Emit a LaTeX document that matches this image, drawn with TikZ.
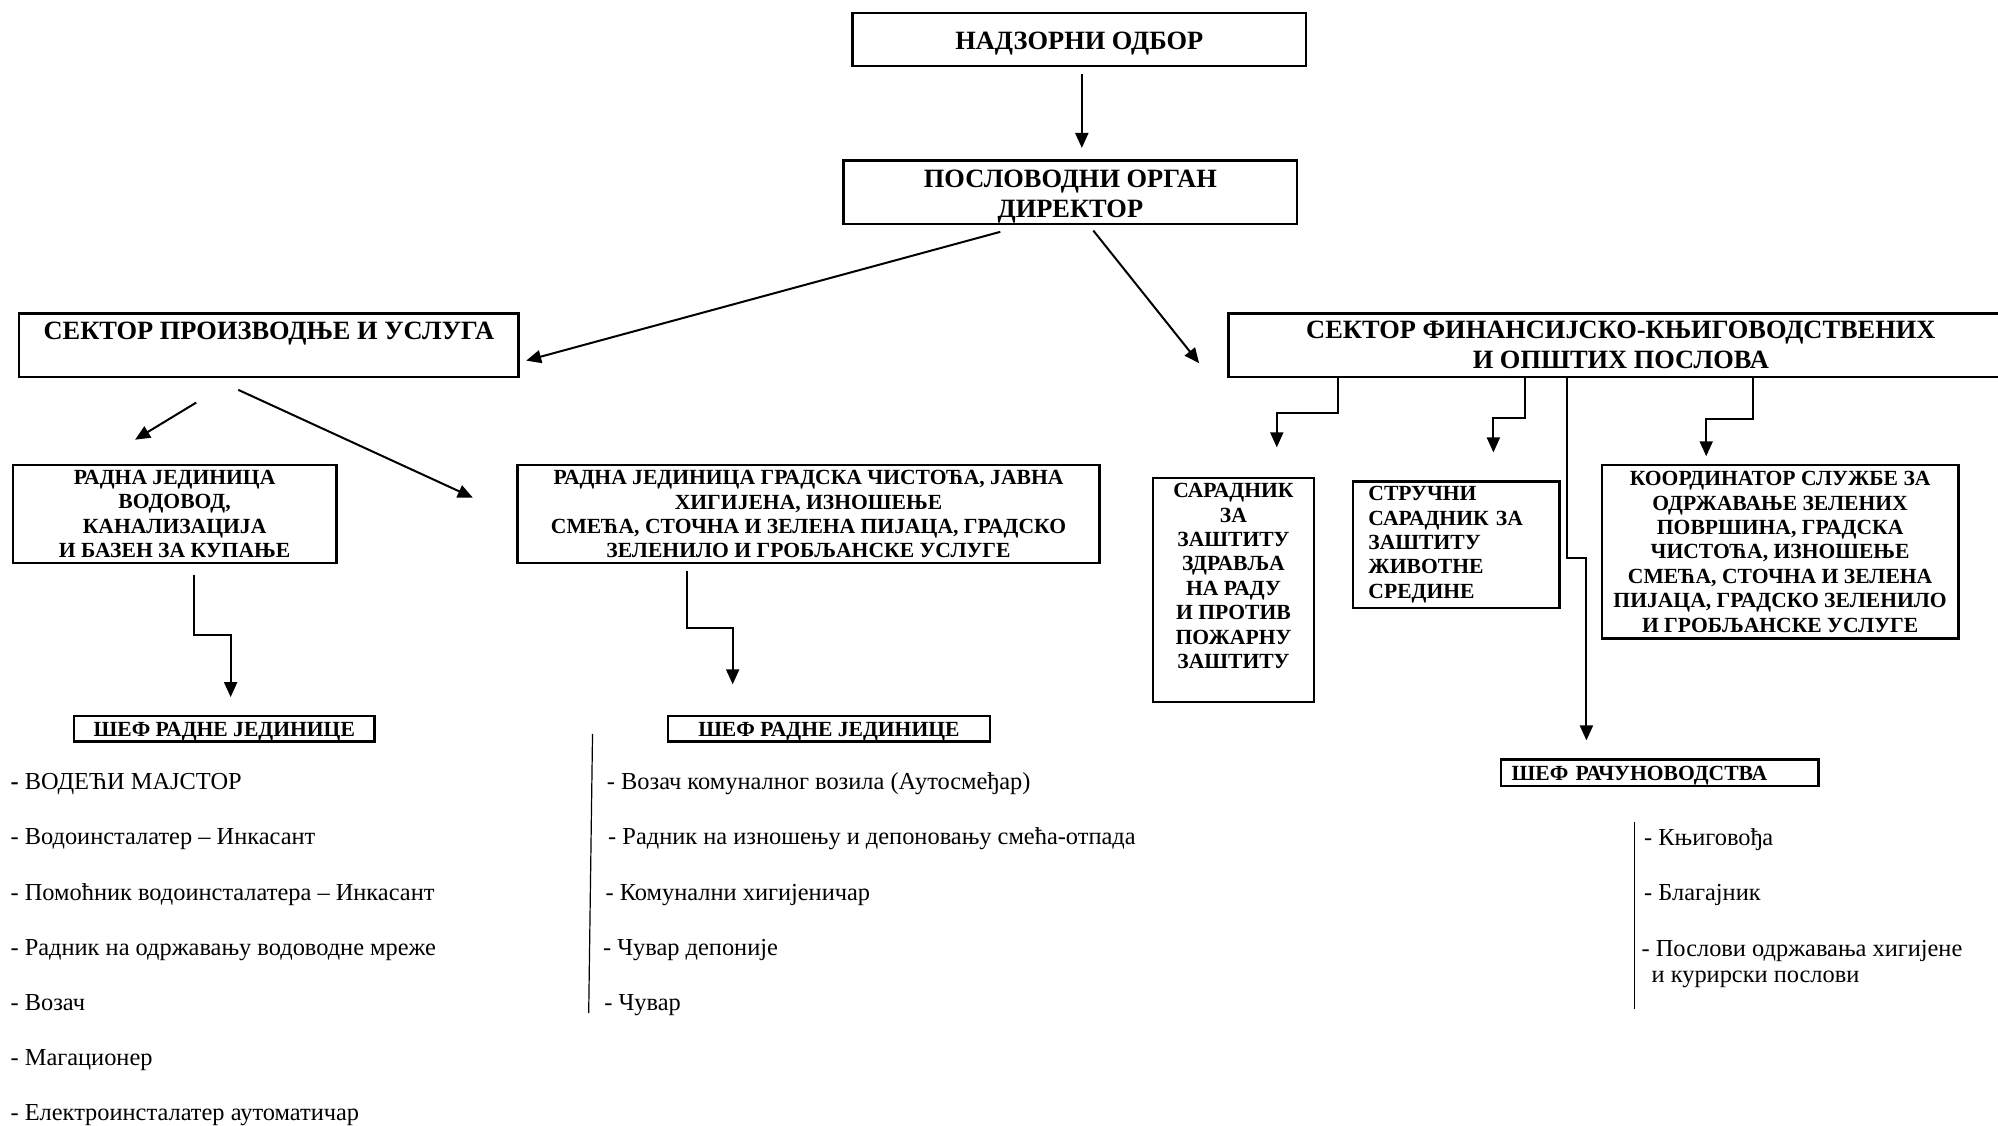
\documentclass[tikz,border=0pt]{standalone}
\usepackage{fontspec}
\setmainfont{Liberation Serif}
\usetikzlibrary{arrows.meta,calc}

\tikzset{
  box/.style={draw, line width=1.2pt, align=center, inner sep=0pt, font=\fontsize{13.2}{15}\selectfont\bfseries},
  smallbox/.style={box, font=\fontsize{10.8}{12.2}\selectfont\bfseries},
  boxsize/.style 2 args={minimum width=#1*0.6371pt, minimum height=#2*0.6371pt},
  arr/.style={line width=1pt, -{Triangle[length=7.5pt,width=6.5pt]}},
  item/.style={anchor=west, inner sep=0pt, text height=8.5pt, text depth=2.5pt, font=\fontsize{12.2}{14}\selectfont},
}
% struts that move the text of a box down or up
\newcommand{\lowtxt}[1]{\rule{0pt}{#1}}
\newcommand{\hightxt}[1]{\rule[-#1]{0pt}{#1}}

\begin{document}
\begin{tikzpicture}[x=0.6371pt, y=-0.6371pt]
  \useasboundingbox (0,0) rectangle (1568,883);
  \fill[white] (0,0) rectangle (1568,883);

  % top of the chart
  \node[box, boxsize={356}{42}] (nadzor) at (847,31) {\lowtxt{12.9pt}НАДЗОРНИ ОДБОР};
  \node[box, boxsize={356}{50}] (direktor) at (840,151) {\lowtxt{12.5pt}ПОСЛОВОДНИ ОРГАН\\ДИРЕКТОР};

  % the two sectors
  \node[box, boxsize={392}{50}] (sektorA) at (211,271) {СЕКТОР ПРОИЗВОДЊЕ И УСЛУГА\\~};
  \node[box, boxsize={616}{50}] (sektorB) at (1272,271) {СЕКТОР ФИНАНСИЈСКО-КЊИГОВОДСТВЕНИХ\\И ОПШТИХ ПОСЛОВА};

  % units of the first sector
  \node[smallbox, boxsize={254}{77}] (rjA) at (137,403.5) {РАДНА ЈЕДИНИЦА\\ВОДОВОД,\\КАНАЛИЗАЦИЈА\\И БАЗЕН ЗА КУПАЊЕ};
  \node[smallbox, boxsize={457}{77}] (rjB) at (634.5,403.5) {РАДНА ЈЕДИНИЦА ГРАДСКА ЧИСТОЋА, ЈАВНА\\ХИГИЈЕНА, ИЗНОШЕЊЕ\\СМЕЋА, СТОЧНА И ЗЕЛЕНА ПИЈАЦА, ГРАДСКО\\ЗЕЛЕНИЛО И ГРОБЉАНСКЕ УСЛУГЕ};
  \node[smallbox, boxsize={236}{20}] (sefA) at (176,572) {\lowtxt{10.3pt}ШЕФ РАДНЕ ЈЕДИНИЦЕ};
  \node[smallbox, boxsize={253}{20}] (sefB) at (650.5,572) {\lowtxt{10.3pt}ШЕФ РАДНЕ ЈЕДИНИЦЕ};

  % units of the second sector
  \node[smallbox, boxsize={126}{176}] (saradnik) at (968,463) {САРАДНИК\\ЗА\\ЗАШТИТУ\\ЗДРАВЉА\\НА РАДУ\\И ПРОТИВ\\ПОЖАРНУ\\ЗАШТИТУ\hightxt{14pt}};
  \node[smallbox, boxsize={162}{99}, align=left, text width=88pt, inner xsep=7.6pt] (strucni) at (1143,427.5) {СТРУЧНИ\\САРАДНИК ЗА\\ЗАШТИТУ\\ЖИВОТНЕ\\СРЕДИНЕ};
  \node[smallbox, boxsize={280}{136}] (koord) at (1397,433) {КООРДИНАТОР СЛУЖБЕ ЗА\\ОДРЖАВАЊЕ ЗЕЛЕНИХ\\ПОВРШИНА, ГРАДСКА\\ЧИСТОЋА, ИЗНОШЕЊЕ\\СМЕЋА, СТОЧНА И ЗЕЛЕНА\\ПИЈАЦА, ГРАДСКО ЗЕЛЕНИЛО\\И ГРОБЉАНСКЕ УСЛУГЕ};
  \node[smallbox, boxsize={249}{21}, align=left, text width=148pt, inner xsep=5.1pt] (sefR) at (1302.5,606.5) {\lowtxt{10.3pt}ШЕФ РАЧУНОВОДСТВА};

  % arrows
  \draw[arr, shorten <=3.2pt, shorten >=5.7pt] ($(nadzor.south)+(2,0)$) -- ($(direktor.north)+(9,0)$);
  \draw[arr] ($(direktor.south)+(-55,5)$) -- ($(sektorA.east)+(5,12)$);
  \draw[arr] ($(direktor.south)+(18,4)$) -- ($(sektorB.west)+(-22,14)$);
  \draw[arr] ($(sektorA.south)+(-57,19)$) -- ($(rjA.north)+(-31,-19)$);
  \draw[arr] ($(sektorA.south)+(-24,9)$) -- ($(rjB.west)+(-34,-13)$);
  \draw[arr] ($(rjA.south)+(15,8)$) -- ++(0,47) -| ($(sefA.north)+(5,-14)$);
  \draw[arr] ($(rjB.south)+(-95.5,5)$) -- ++(0,45) -| ($(sefB.north)+(-75.5,-24)$);
  \draw[arr] ($(sektorB.south)+(-222,0)$) -- ++(0,27) -| ($(saradnik.north)+(34,-23)$);
  \draw[arr] ($(sektorB.south)+(-75,0)$) -- ++(0,31) -| ($(strucni.north)+(29,-22)$);
  \draw[arr] ($(sektorB.south)+(-42,0)$) -- ++(0,141) -| ($(sefR.north)+(-57.5,-14)$);
  \draw[arr] ($(sektorB.south)+(104,0)$) -- ++(0,32) -| ($(koord.north)+(-58,-6)$);

  % lists of jobs
  \foreach \txt [count=\i] in {\textbf{-} ВОДЕЋИ МАЈСТОР, - Водоинсталатер – Инкасант, - Помоћник водоинсталатера – Инкасант, - Радник на одржавању водоводне мреже, - Возач, - Магационер, - Електроинсталатер аутоматичар} {
    \node[item] (itemA\i) at (8,{615+43.33*(\i-1)}) {\txt};
  }
  \foreach \dx/\txt [count=\i] in {476/{- Возач комуналног возила (Аутосмеђар)}, 477/{- Радник на изношењу и депоновању смећа-отпада}, 475/{- Комунални хигијеничар}, 473/{- Чувар депоније}, 474/{- Чувар}} {
    \node[item] (itemB\i) at (\dx,{615+43.33*(\i-1)}) {\txt};
  }
  \draw[line width=0.6pt] (465,576) -- (462,795);

  \node[item] (itemR1) at (1290,659) {- Књиговођа};
  \node[item] (itemR2) at (1290,702) {- Благајник};
  \node[anchor=west, inner sep=0pt, align=left, font=\fontsize{12.2}{13.4}\selectfont] (itemR3) at (1288,756.5) {- Послови одржавања хигијене\\\hspace*{5pt}и курирски послови};
  \draw[line width=0.6pt] (1283,645) -- (1283,792);
\end{tikzpicture}
\end{document}
